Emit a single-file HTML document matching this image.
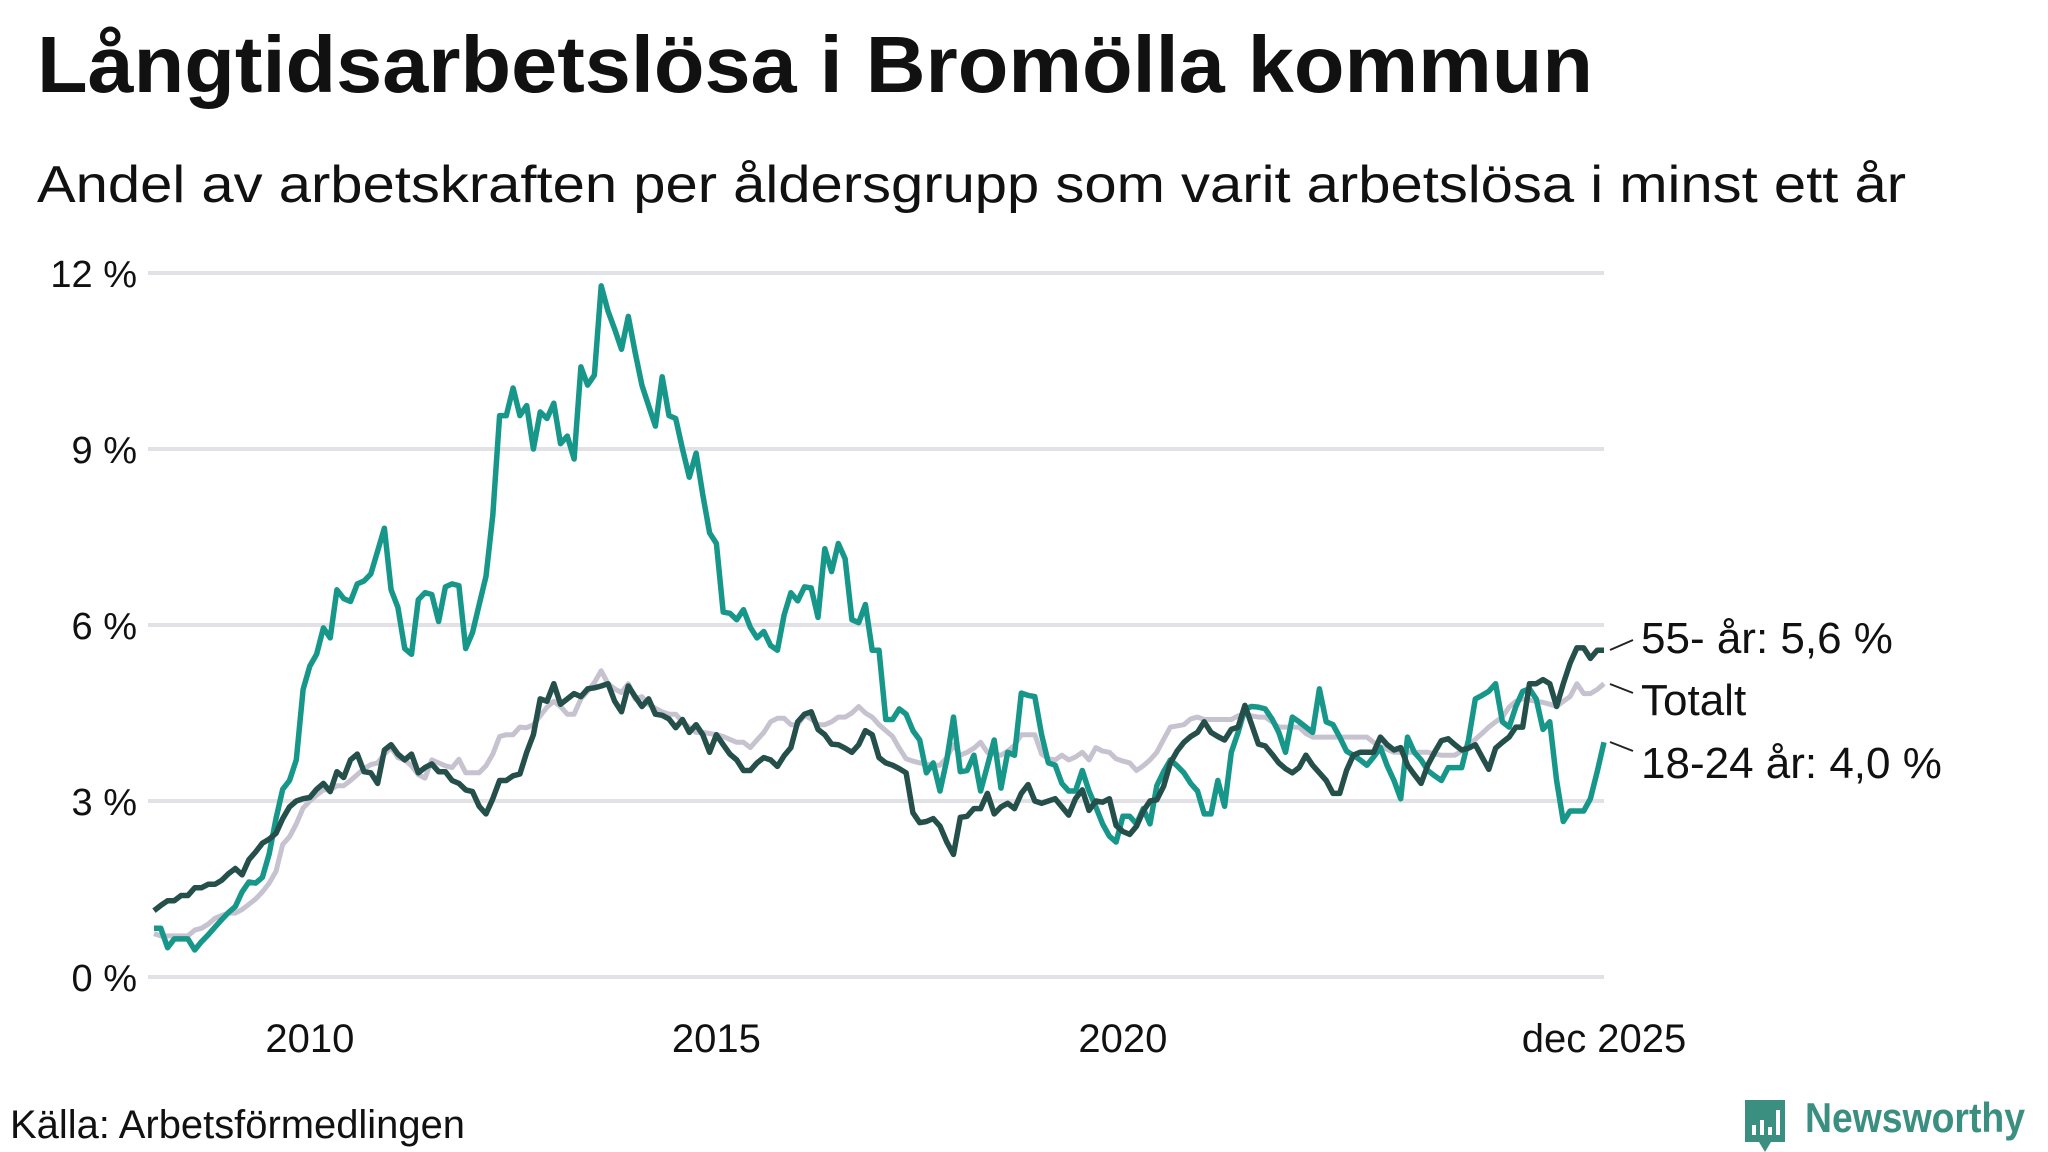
<!DOCTYPE html>
<html><head><meta charset="utf-8">
<style>
html,body{margin:0;padding:0;background:#fff;}
svg{display:block;font-family:"Liberation Sans",sans-serif;}
</style></head>
<body>
<svg id="chart" width="2048" height="1152" viewBox="0 0 2048 1152" xmlns="http://www.w3.org/2000/svg">
<rect width="2048" height="1152" fill="#fff"/>
<text x="37" y="92" font-size="80" font-weight="bold" fill="#111" textLength="1556" lengthAdjust="spacingAndGlyphs">Långtidsarbetslösa i Bromölla kommun</text>
<text x="37" y="202" font-size="52" fill="#111" textLength="1869" lengthAdjust="spacingAndGlyphs">Andel av arbetskraften per åldersgrupp som varit arbetslösa i minst ett år</text>
<g id="grid"></g>
<g id="yticks"></g>
<g id="xticks"></g>
<g id="lines"></g>
<g>
<line x1="1610" y1="650" x2="1633" y2="640" stroke="#222" stroke-width="2"/>
<line x1="1610" y1="684" x2="1633" y2="693" stroke="#222" stroke-width="2"/>
<line x1="1610" y1="742" x2="1633" y2="751" stroke="#222" stroke-width="2"/>
<text x="1641" y="653" font-size="44" fill="#111">55- år: 5,6 %</text>
<text x="1641" y="715" font-size="44" fill="#111">Totalt</text>
<text x="1641" y="778" font-size="44" fill="#111">18-24 år: 4,0 %</text>
</g>
<text x="10" y="1138" font-size="40" fill="#111" textLength="455" lengthAdjust="spacingAndGlyphs">Källa: Arbetsförmedlingen</text>
<g>
<path d="M1745 1100 h40 v42 h-14 l-6 10 l-6 -10 h-14 z" fill="#3a8f80"/>
<rect x="1752" y="1125" width="4" height="10" fill="#fff"/>
<rect x="1760" y="1120" width="4" height="15" fill="#fff"/>
<rect x="1768" y="1127" width="4" height="8" fill="#fff"/>
<rect x="1776" y="1110" width="4" height="25" fill="#fff"/>
<text x="1805" y="1132" font-size="42" font-weight="bold" fill="#3a8f80" textLength="220" lengthAdjust="spacingAndGlyphs">Newsworthy</text>
</g>
</svg>
<script>
const yTicks = [0, 3, 6, 9, 12];
const yTickLabels = ["0 %", "3 %", "6 %", "9 %", "12 %"];
const xTickMonths = [23, 83, 143, 214];
const xTickLabels = ["2010", "2015", "2020", "dec 2025"];
const seriesTotal = [0.74,0.7,0.7,0.7,0.7,0.7,0.8,0.83,0.9,1.0,1.05,1.09,1.09,1.15,1.24,1.33,1.45,1.6,1.8,2.26,2.39,2.61,2.88,3.0,3.1,3.19,3.19,3.26,3.26,3.35,3.45,3.55,3.62,3.65,3.8,3.91,3.74,3.7,3.6,3.45,3.39,3.7,3.65,3.6,3.57,3.71,3.48,3.48,3.48,3.6,3.8,4.1,4.13,4.13,4.26,4.25,4.3,4.45,4.6,4.7,4.61,4.48,4.48,4.74,4.87,5.02,5.22,5.0,4.91,4.85,5.0,4.74,4.78,4.65,4.58,4.52,4.48,4.48,4.35,4.25,4.17,4.17,4.15,4.13,4.1,4.05,4.0,4.0,3.91,4.04,4.17,4.35,4.41,4.41,4.3,4.3,4.46,4.4,4.3,4.3,4.35,4.43,4.43,4.5,4.61,4.5,4.43,4.3,4.2,4.1,3.9,3.72,3.68,3.65,3.63,3.61,3.61,3.74,3.96,3.78,3.83,3.9,4.0,3.83,3.8,3.78,3.85,3.95,4.13,4.13,4.13,3.8,3.72,3.7,3.78,3.7,3.75,3.83,3.7,3.91,3.85,3.83,3.72,3.68,3.65,3.52,3.6,3.7,3.83,4.05,4.26,4.28,4.3,4.4,4.43,4.39,4.39,4.39,4.39,4.39,4.45,4.48,4.45,4.43,4.43,4.35,4.26,4.26,4.26,4.26,4.15,4.09,4.09,4.09,4.09,4.09,4.09,4.09,4.09,4.09,4.0,3.93,3.88,3.83,3.83,3.83,3.83,3.83,3.83,3.8,3.78,3.78,3.78,3.85,3.95,4.05,4.15,4.26,4.35,4.43,4.6,4.7,4.74,4.72,4.7,4.68,4.65,4.61,4.7,4.78,5.0,4.83,4.83,4.9,5.0];
const series55 = [1.13,1.22,1.3,1.3,1.39,1.39,1.52,1.52,1.58,1.58,1.65,1.76,1.85,1.74,2.0,2.13,2.28,2.35,2.45,2.7,2.9,3.0,3.04,3.06,3.2,3.3,3.16,3.5,3.4,3.7,3.8,3.5,3.48,3.3,3.87,3.96,3.8,3.7,3.8,3.48,3.57,3.63,3.5,3.5,3.35,3.3,3.19,3.16,2.91,2.78,3.04,3.35,3.35,3.43,3.46,3.83,4.13,4.74,4.7,5.0,4.65,4.74,4.83,4.78,4.91,4.93,4.96,5.0,4.7,4.52,4.96,4.78,4.61,4.74,4.48,4.46,4.4,4.25,4.39,4.17,4.3,4.13,3.83,4.13,3.96,3.8,3.7,3.52,3.52,3.65,3.74,3.7,3.59,3.77,3.91,4.35,4.48,4.52,4.22,4.13,3.97,3.96,3.9,3.83,3.96,4.2,4.13,3.74,3.65,3.61,3.55,3.48,2.8,2.63,2.65,2.7,2.57,2.3,2.09,2.72,2.74,2.87,2.87,3.13,2.78,2.9,2.96,2.87,3.13,3.28,3.0,2.96,3.0,3.04,2.9,2.76,3.04,3.19,2.84,3.0,2.98,3.04,2.58,2.48,2.43,2.57,2.83,3.0,3.02,3.25,3.65,3.85,4.0,4.1,4.17,4.35,4.17,4.1,4.04,4.22,4.26,4.63,4.3,3.97,3.94,3.8,3.65,3.55,3.48,3.57,3.78,3.61,3.48,3.35,3.13,3.13,3.52,3.78,3.83,3.83,3.83,4.09,3.96,3.87,3.91,3.61,3.45,3.3,3.61,3.83,4.03,4.06,3.96,3.87,3.9,3.96,3.75,3.54,3.9,4.0,4.09,4.26,4.26,5.0,5.0,5.07,5.0,4.61,5.0,5.35,5.61,5.61,5.43,5.57,5.57];
const series1824 = [0.83,0.83,0.5,0.65,0.65,0.65,0.46,0.6,0.72,0.85,0.98,1.1,1.2,1.45,1.62,1.6,1.7,2.1,2.7,3.2,3.35,3.7,4.9,5.3,5.5,5.95,5.78,6.6,6.45,6.4,6.7,6.75,6.87,7.26,7.65,6.6,6.3,5.6,5.5,6.43,6.55,6.52,6.06,6.65,6.7,6.67,5.6,5.87,6.35,6.83,7.87,9.57,9.57,10.04,9.57,9.74,9.0,9.63,9.52,9.78,9.09,9.22,8.83,10.4,10.09,10.26,11.78,11.35,11.04,10.7,11.26,10.65,10.09,9.74,9.39,10.23,9.57,9.52,9.0,8.52,8.93,8.22,7.57,7.39,6.22,6.2,6.09,6.26,5.96,5.78,5.89,5.65,5.57,6.17,6.55,6.41,6.65,6.63,6.13,7.3,6.91,7.39,7.13,6.09,6.04,6.35,5.57,5.57,4.39,4.39,4.57,4.48,4.2,4.04,3.48,3.65,3.17,3.7,4.43,3.5,3.52,3.78,3.17,3.6,4.04,3.22,3.83,3.78,4.84,4.8,4.78,4.13,3.65,3.61,3.3,3.17,3.17,3.52,3.17,2.9,2.61,2.4,2.3,2.74,2.74,2.61,2.87,2.61,3.26,3.5,3.7,3.6,3.48,3.3,3.17,2.78,2.78,3.35,2.91,3.83,4.17,4.57,4.61,4.6,4.57,4.4,4.17,3.83,4.43,4.35,4.26,4.17,4.91,4.35,4.3,4.09,3.85,3.78,3.7,3.61,3.75,3.91,3.6,3.35,3.04,4.09,3.83,3.7,3.52,3.43,3.35,3.57,3.57,3.57,4.04,4.74,4.8,4.87,5.0,4.35,4.26,4.61,4.87,4.91,4.74,4.22,4.35,3.35,2.65,2.83,2.83,2.83,3.04,3.5,4.0];

const NS = "http://www.w3.org/2000/svg";
const X0 = 154, X1 = 1604, Y0 = 977, Y12 = 273;
const nMonths = 214;
function xScale(i){ return X0 + (X1 - X0) * i / nMonths; }
function yScale(v){ return Y0 + (Y12 - Y0) * v / 12; }

const grid = document.getElementById('grid');
const yt = document.getElementById('yticks');
yTicks.forEach(function(t, k){
  const ln = document.createElementNS(NS, 'line');
  ln.setAttribute('x1', 148); ln.setAttribute('x2', 1604);
  ln.setAttribute('y1', yScale(t)); ln.setAttribute('y2', yScale(t));
  ln.setAttribute('stroke', '#e2e1e6'); ln.setAttribute('stroke-width', 4);
  
  
  grid.appendChild(ln);
  const tx = document.createElementNS(NS, 'text');
  tx.setAttribute('x', 137); tx.setAttribute('y', yScale(t) + 14);
  tx.setAttribute('text-anchor', 'end'); tx.setAttribute('font-size', 38); tx.setAttribute('fill', '#111');
  tx.textContent = yTickLabels[k];
  
  
  yt.appendChild(tx);
});
const xt = document.getElementById('xticks');
xTickMonths.forEach(function(m, k){
  const tx = document.createElementNS(NS, 'text');
  tx.setAttribute('x', xScale(m)); tx.setAttribute('y', 1052);
  tx.setAttribute('text-anchor', 'middle'); tx.setAttribute('font-size', 40); tx.setAttribute('fill', '#111');
  tx.textContent = xTickLabels[k];
  
  
  xt.appendChild(tx);
});
const lines = document.getElementById('lines');
function drawLine(data, color, width, name){
  const p = document.createElementNS(NS, 'polyline');
  p.setAttribute('points', data.map(function(v, i){ return xScale(i).toFixed(1) + ',' + yScale(v).toFixed(1); }).join(' '));
  p.setAttribute('fill', 'none'); p.setAttribute('stroke', color); p.setAttribute('stroke-width', width);
  p.setAttribute('stroke-linejoin', 'round');
  
  
  lines.appendChild(p);
}
drawLine(seriesTotal, '#c6c2cf', 5, 'line-totalt');
drawLine(series1824, '#17978a', 5.5, 'line-18-24');
drawLine(series55, '#244f4a', 5.5, 'line-55-plus');
</script>
</body></html>
